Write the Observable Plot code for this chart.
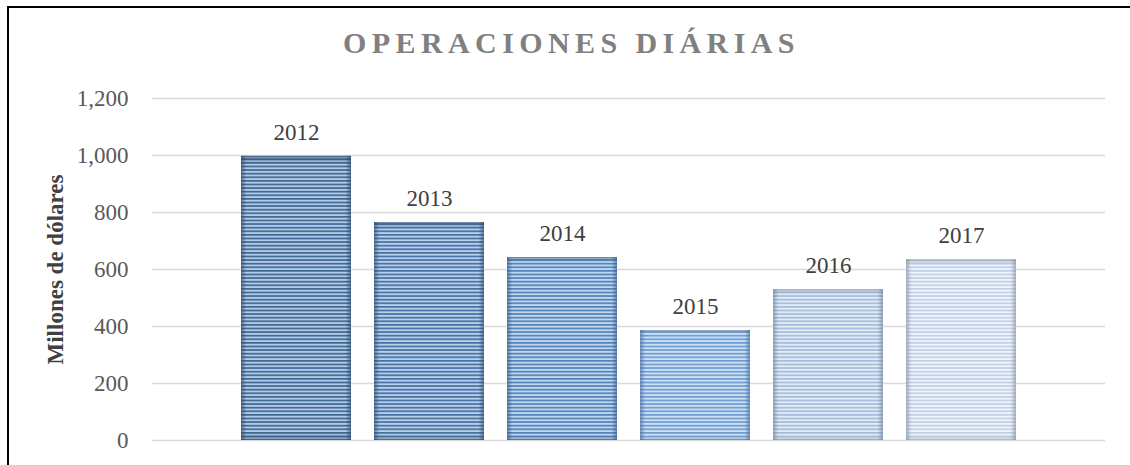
<!DOCTYPE html>
<html>
<head>
<meta charset="utf-8">
<script src="https://cdn.jsdelivr.net/npm/d3@7"></script>
<script src="https://cdn.jsdelivr.net/npm/@observablehq/plot@0.6"></script>
<style>
  html, body { margin: 0; padding: 0; background: #fff; }
  body { width: 1130px; height: 465px; position: relative; overflow: hidden; font-family: "Liberation Serif", "Times New Roman", serif; }
  #frame { position: absolute; left: 7px; top: 6px; width: 1140px; height: 480px; border-left: 2px solid #000; border-top: 2px solid #000; }
  #title { position: absolute; left: 0; top: 28px; width: 1130px; text-align: center; font-family: "Liberation Serif", serif; font-size: 30px; line-height: 30px; font-weight: bold; letter-spacing: 5.4px; padding-left: 13px; box-sizing: border-box; color: #808080; }
  #chart { position: absolute; left: 0; top: 0; }
  #chart svg text { font-family: "Liberation Serif", serif; }
</style>
</head>
<body>
<div id="frame"></div>
<div id="title">OPERACIONES DIÁRIAS</div>
<svg width="0" height="0" style="position:absolute" id="defs"></svg>
<div id="chart"></div>
<script>
// ---- data ----
const years = ["2012", "2013", "2014", "2015", "2016", "2017"];
const values = [997, 765, 642, 386, 529, 634];
const yTicks = [0, 200, 400, 600, 800, 1000, 1200];
const yLabel = "Millones de dólares";

// ---- styles (bar stripe palette) ----
const stripeDark  = ["#3e6996", "#4472a3", "#5282ba", "#6f9dd2", "#a3bbdc", "#bfcfe8"];
const stripeLight = ["#b4cae4", "#b9cfe8", "#c2d7ee", "#cddff3", "#e4ecf6", "#f0f4fa"];
const edgeColor   = ["#24405f", "#284668", "#2e5482", "#3d6596", "#6b7c95", "#7d8797"];

// build pattern and edge-gradient defs
const defs = d3.select("#defs").append("defs");
stripeDark.forEach((c, i) => {
  const p = defs.append("pattern")
    .attr("id", "stripe" + i)
    .attr("patternUnits", "userSpaceOnUse")
    .attr("width", 8).attr("height", 3.6);
  p.append("rect").attr("width", 8).attr("height", 3.6).attr("fill", stripeLight[i]);
  p.append("rect").attr("y", 0).attr("width", 8).attr("height", 1.7).attr("fill", c);
  const gH = defs.append("linearGradient").attr("id", "edgeH" + i).attr("x1", 0).attr("x2", 1).attr("y1", 0).attr("y2", 0);
  [[0, 0.6], [0.05, 0], [0.95, 0], [1, 0.6]].forEach(([o, a]) =>
    gH.append("stop").attr("offset", o).attr("stop-color", edgeColor[i]).attr("stop-opacity", a));
  const gV = defs.append("linearGradient").attr("id", "edgeV" + i).attr("x1", 0).attr("x2", 0).attr("y1", 0).attr("y2", 1);
  [[0, 0.5], [0.03, 0], [0.97, 0], [1, 0.35]].forEach(([o, a]) =>
    gV.append("stop").attr("offset", o).attr("stop-color", edgeColor[i]).attr("stop-opacity", a));
});

const data = years.map((year, i) => ({
  year, value: values[i],
  pattern: `url(#stripe${i})`, edgeH: `url(#edgeH${i})`, edgeV: `url(#edgeV${i})`
}));

const serif = "'Liberation Serif', 'Times New Roman', serif";
const chart = Plot.plot({
  width: 1130,
  height: 465,
  marginTop: 98,
  marginBottom: 25,
  marginLeft: 152,
  marginRight: 25,
  style: { fontFamily: serif, background: "transparent", overflow: "visible" },
  x: { domain: years, range: [228.5, 1027.5], paddingInner: 0.173, paddingOuter: 0.0865, axis: null },
  y: { domain: [0, 1200] },
  color: { type: "identity" },
  marks: [
    Plot.ruleY(yTicks, { stroke: "#d9d9d9", strokeWidth: 1.5 }),
    Plot.axisY(yTicks, { tickSize: 0, tickPadding: 24, tickFormat: d3.format(","), fontSize: 23, fontFamily: serif, color: "#595959", label: null }),
    Plot.barY(data, { x: "year", y: "value", fill: "pattern" }),
    Plot.barY(data, { x: "year", y: "value", fill: "edgeH" }),
    Plot.barY(data, { x: "year", y: "value", fill: "edgeV" }),
    Plot.text(data, { x: "year", y: "value", text: "year", dy: -24, fontSize: 23, fontFamily: serif, fill: "#404040" }),
    Plot.text([yLabel], { frameAnchor: "left", textAnchor: "middle", rotate: -90, dx: -97, fontSize: 23, fontFamily: serif, fontWeight: "bold", fill: "#404040" })
  ]
});
document.getElementById("chart").appendChild(chart);
</script>
</body>
</html>
